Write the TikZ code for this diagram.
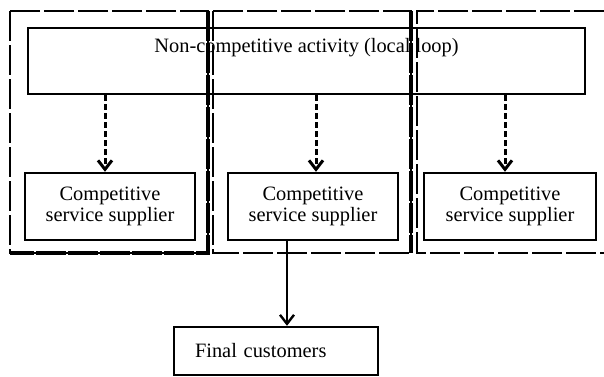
\documentclass[tikz,border=0pt]{standalone}
\usepackage{fontspec}
\setmainfont{Liberation Serif}
\usetikzlibrary{arrows.meta}

\begin{document}
\begin{tikzpicture}[x=0.5pt,y=-0.5pt,font=\fontsize{10.2}{10.8}\selectfont,
    box/.style={draw,line width=1.2pt,inner sep=0pt,align=center},
    zone/.style={draw,line width=1.1pt,dash pattern=on 15pt off 2pt},
    edge/.style={draw,line width=2pt,dash pattern=on 15pt off 1pt},
    flow/.style={-{Straight Barb[length=4.5pt,width=7pt]},line width=1.5pt,dash pattern=on 3pt off 1.5pt},
    link/.style={-{Straight Barb[length=4.5pt,width=7pt]},line width=1.2pt}]
    \useasboundingbox (0,0) rectangle (604,376);
    % dashed zones
    \draw[zone] (10,11) rectangle (208,253);
    \draw[edge] (208,11) -- (208,253) -- (10,253);
    \draw[zone] (213,11) rectangle (411,253);
    \draw[edge] (411,11) -- (411,253);
    \draw[zone] (604,11) -| (417,253) -- (604,253);
    % boxes
    \node[box,minimum width=278.5pt,text height=12pt,text depth=21pt] (loop) at (306.5,61) {Non-competitive activity (local loop)};%
    \node[box,minimum width=85pt,minimum height=33.5pt] (s1) at (110,206.5) {Competitive\\service supplier};%
    \node[box,minimum width=85pt,minimum height=33.5pt] (s2) at (313,206.5) {Competitive\\service supplier};%
    \node[box,minimum width=86pt,minimum height=33.5pt] (s3) at (510,206.5) {Competitive\\service supplier};%
    \node[box,inner xsep=10.5pt,text width=81pt,align=left,minimum height=24pt] (final) at (276,351) {Final customers};%
    % arrows
    \draw[flow] (loop.south -| 105,0) to (s1.north -| 105,0);
    \draw[flow] (loop.south -| 316,0) to (s2.north -| 316,0);
    \draw[flow] (loop.south -| 505,0) to (s3.north -| 505,0);
    \coordinate (tap) at (287,241);
    \draw[link] (tap) to (tap |- final.north);
\end{tikzpicture}
\end{document}
